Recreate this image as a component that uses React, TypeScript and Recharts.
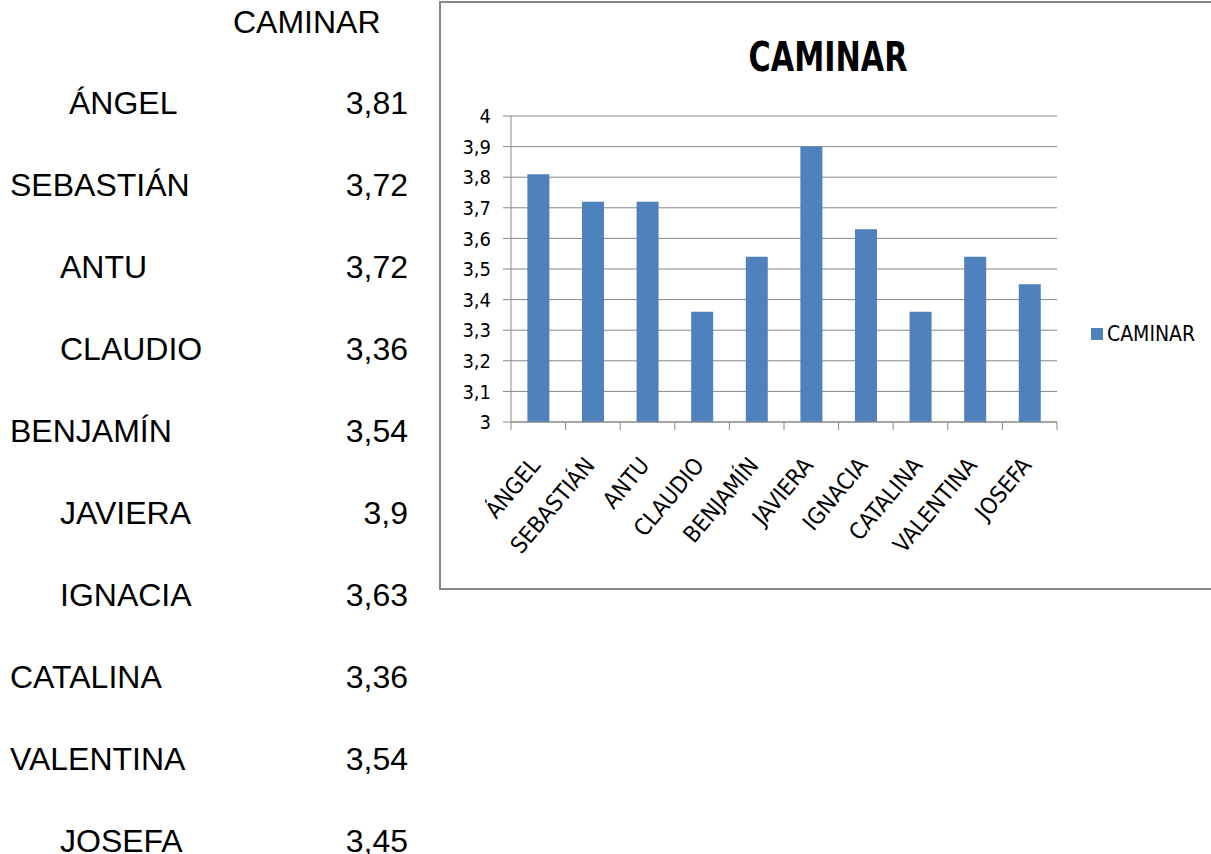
import React from "react";
import { BarChart, Bar, XAxis, YAxis, CartesianGrid, Legend } from "recharts";

// Walking scores per student
const students = ["ÁNGEL", "SEBASTIÁN", "ANTU", "CLAUDIO", "BENJAMÍN", "JAVIERA", "IGNACIA", "CATALINA", "VALENTINA", "JOSEFA"];
const caminar = [3.81, 3.72, 3.72, 3.36, 3.54, 3.9, 3.63, 3.36, 3.54, 3.45];
const yTicks = [3, 3.1, 3.2, 3.3, 3.4, 3.5, 3.6, 3.7, 3.8, 3.9, 4];
const seriesName = "CAMINAR";

const data = students.map((name, i) => ({ name, CAMINAR: caminar[i] }));

const fmt = (v: number) => String(v).replace(".", ",");

// layout
const CHART_W = 770;
const CHART_H = 585;
const MARGIN = { top: 113, right: 154, left: 0, bottom: 0 };
const Y_AXIS_W = 70;
const X_AXIS_H = 166;
const PLOT_W = CHART_W - MARGIN.right - MARGIN.left - Y_AXIS_W;
const BAND = PLOT_W / students.length;

const ROW_TOP = 103;
const ROW_STEP = 81.9;
const rowIndent = [69, 10, 60, 60, 10, 60, 60, 10, 10, 60];

const CHART_FONT = "'Liberation Sans Narrow', 'DejaVu Sans Condensed', 'Open Sans', sans-serif";
const TABLE_FONT = "'Liberation Sans', Arial, sans-serif";
const GRID = "#878787";
const BAR = "#4F81BD";

const CategoryTick = (props: any) => {
  const { x, y, payload, index } = props;
  const last = index === students.length - 1;
  return (
    <g>
      <line x1={x - BAND / 2} x2={x - BAND / 2} y1={y} y2={y + 8} stroke={GRID} strokeWidth={1} />
      {last && <line x1={x + BAND / 2} x2={x + BAND / 2} y1={y} y2={y + 8} stroke={GRID} strokeWidth={1} />}
      <text
        x={0}
        y={0}
        transform={`translate(${x + 3},${y + 44}) rotate(-50)`}
        textAnchor="end"
        fontSize={23}
        fontFamily={CHART_FONT}
        fill="#000"
      >
        {payload.value}
      </text>
    </g>
  );
};

const LegendBox = () => (
  <div style={{ display: "flex", alignItems: "center", fontFamily: CHART_FONT, fontSize: 21, color: "#000" }}>
    <span style={{ width: 12, height: 12, background: BAR, display: "inline-block", marginRight: 4 }} />
    <span>{seriesName}</span>
  </div>
);

const tableText: React.CSSProperties = {
  position: "absolute",
  fontFamily: TABLE_FONT,
  fontSize: 32,
  lineHeight: "26px",
  whiteSpace: "nowrap",
  color: "#000",
};

export default function App() {
  return (
    <div style={{ position: "fixed", left: 0, top: 0, width: 1211, height: 854, overflow: "hidden", background: "#fff" }}>
      {/* data table */}
      <div style={{ ...tableText, left: 233, top: 22 - 12.6 }}>{seriesName}</div>
      {students.map((s, i) => (
        <React.Fragment key={s}>
          <div style={{ ...tableText, left: rowIndent[i], top: ROW_TOP + i * ROW_STEP - 12.6 }}>{s}</div>
          <div style={{ ...tableText, right: 1211 - 408, top: ROW_TOP + i * ROW_STEP - 12.6, textAlign: "right" }}>
            {fmt(caminar[i])}
          </div>
        </React.Fragment>
      ))}

      {/* chart frame */}
      <div
        style={{
          position: "absolute",
          left: 439,
          top: 1,
          width: 800,
          height: 589,
          border: `2px solid ${GRID}`,
          boxSizing: "border-box",
        }}
      />
      <div
        style={{
          position: "absolute",
          left: 628,
          width: 400,
          top: 32,
          textAlign: "center",
          fontFamily: CHART_FONT,
          fontWeight: "bold",
          fontSize: 40,
          lineHeight: "50px",
          transform: "scaleX(0.84)",
          transformOrigin: "50% 50%",
        }}
      >
        {seriesName}
      </div>
      <div style={{ position: "absolute", left: 441, top: 3 }}>
        <BarChart width={CHART_W} height={CHART_H} data={data} margin={MARGIN} barCategoryGap="30%">
          <CartesianGrid vertical={false} stroke={GRID} strokeWidth={1} />
          <XAxis
            dataKey="name"
            height={X_AXIS_H}
            interval={0}
            tickLine={false}
            tickSize={0}
            tickMargin={0}
            axisLine={{ stroke: GRID }}
            tick={<CategoryTick />}
          />
          <YAxis
            width={Y_AXIS_W}
            domain={[3, 4]}
            ticks={yTicks}
            interval={0}
            allowDataOverflow
            tickSize={8}
            tickMargin={12}
            axisLine={{ stroke: GRID }}
            tickLine={{ stroke: GRID }}
            tickFormatter={fmt}
            tick={{ fontSize: 20, fontFamily: CHART_FONT, fill: "#000" }}
          />
          <Bar dataKey="CAMINAR" fill={BAR} isAnimationActive={false} />
          <Legend
            layout="horizontal"
            verticalAlign="middle"
            align="center"
            content={<LegendBox />}
            wrapperStyle={{ left: 650, top: 319, width: "auto" }}
          />
        </BarChart>
      </div>
    </div>
  );
}
